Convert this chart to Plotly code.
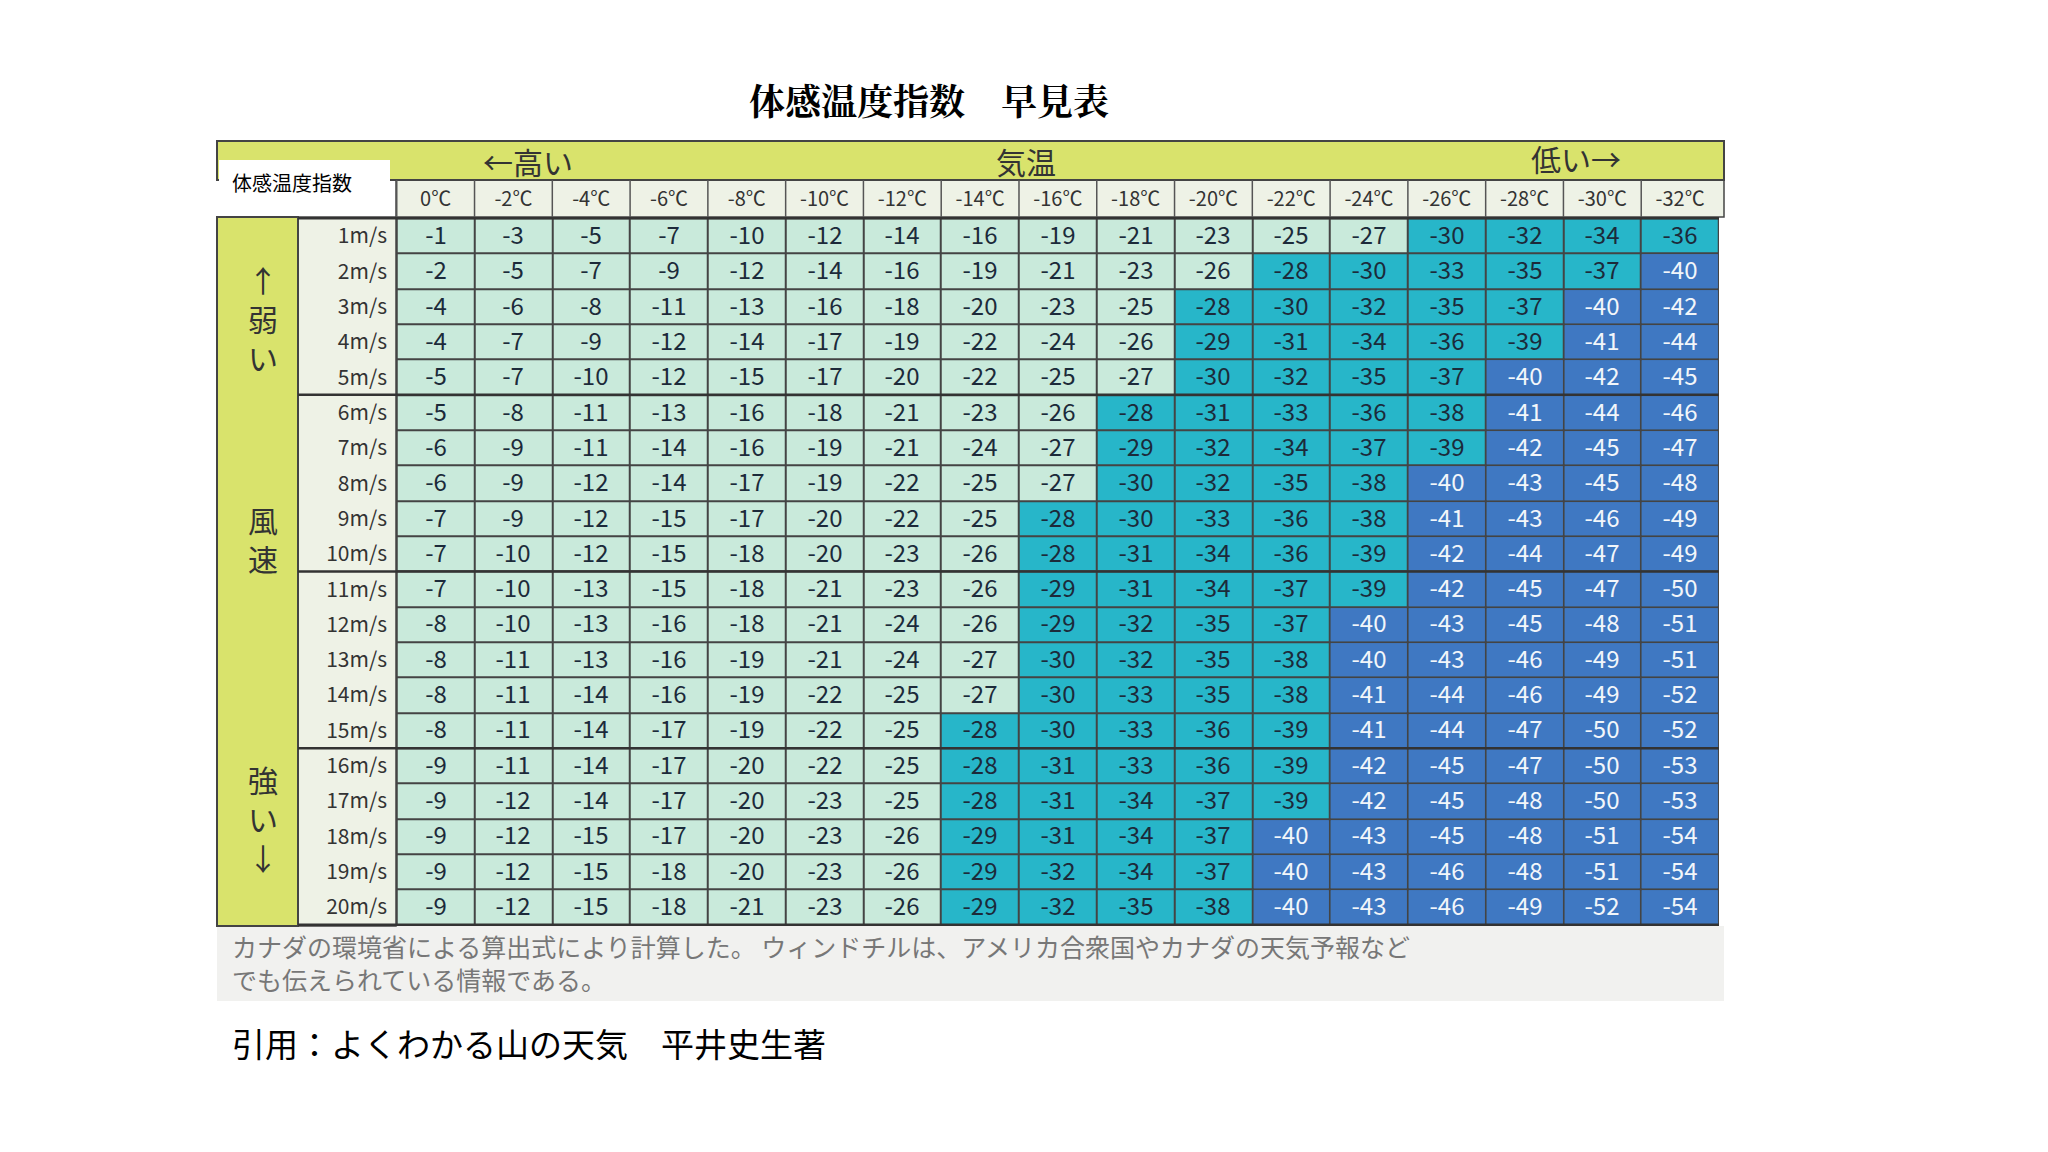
import plotly.graph_objects as go

W, H = 2048, 1152

temps = ["0℃", "-2℃", "-4℃", "-6℃", "-8℃", "-10℃", "-12℃", "-14℃", "-16℃",
         "-18℃", "-20℃", "-22℃", "-24℃", "-26℃", "-28℃", "-30℃", "-32℃"]
winds = [f"{i}m/s" for i in range(1, 21)]

wc = [
    [-1, -3, -5, -7, -10, -12, -14, -16, -19, -21, -23, -25, -27, -30, -32, -34, -36],
    [-2, -5, -7, -9, -12, -14, -16, -19, -21, -23, -26, -28, -30, -33, -35, -37, -40],
    [-4, -6, -8, -11, -13, -16, -18, -20, -23, -25, -28, -30, -32, -35, -37, -40, -42],
    [-4, -7, -9, -12, -14, -17, -19, -22, -24, -26, -29, -31, -34, -36, -39, -41, -44],
    [-5, -7, -10, -12, -15, -17, -20, -22, -25, -27, -30, -32, -35, -37, -40, -42, -45],
    [-5, -8, -11, -13, -16, -18, -21, -23, -26, -28, -31, -33, -36, -38, -41, -44, -46],
    [-6, -9, -11, -14, -16, -19, -21, -24, -27, -29, -32, -34, -37, -39, -42, -45, -47],
    [-6, -9, -12, -14, -17, -19, -22, -25, -27, -30, -32, -35, -38, -40, -43, -45, -48],
    [-7, -9, -12, -15, -17, -20, -22, -25, -28, -30, -33, -36, -38, -41, -43, -46, -49],
    [-7, -10, -12, -15, -18, -20, -23, -26, -28, -31, -34, -36, -39, -42, -44, -47, -49],
    [-7, -10, -13, -15, -18, -21, -23, -26, -29, -31, -34, -37, -39, -42, -45, -47, -50],
    [-8, -10, -13, -16, -18, -21, -24, -26, -29, -32, -35, -37, -40, -43, -45, -48, -51],
    [-8, -11, -13, -16, -19, -21, -24, -27, -30, -32, -35, -38, -40, -43, -46, -49, -51],
    [-8, -11, -14, -16, -19, -22, -25, -27, -30, -33, -35, -38, -41, -44, -46, -49, -52],
    [-8, -11, -14, -17, -19, -22, -25, -28, -30, -33, -36, -39, -41, -44, -47, -50, -52],
    [-9, -11, -14, -17, -20, -22, -25, -28, -31, -33, -36, -39, -42, -45, -47, -50, -53],
    [-9, -12, -14, -17, -20, -23, -25, -28, -31, -34, -37, -39, -42, -45, -48, -50, -53],
    [-9, -12, -15, -17, -20, -23, -26, -29, -31, -34, -37, -40, -43, -45, -48, -51, -54],
    [-9, -12, -15, -18, -20, -23, -26, -29, -32, -34, -37, -40, -43, -46, -48, -51, -54],
    [-9, -12, -15, -18, -21, -23, -26, -29, -32, -35, -38, -40, -43, -46, -49, -52, -54],
]

# colour bands: > -28 pale, -28..-39 cyan, <= -40 blue
cscale = [[0, "#3f78c2"], [0.333, "#3f78c2"], [0.333, "#27b6c9"],
          [0.667, "#27b6c9"], [0.667, "#c9eadb"], [1, "#c9eadb"]]
band = [[0 if v <= -40 else (1 if v <= -28 else 2) for v in row] for row in wc]
band_blue = [[0 if v <= -40 else None for v in row] for row in wc]
txt_dark = [[str(v) if v > -40 else "" for v in row] for row in wc]
txt_light = [[str(v) if v <= -40 else "" for v in row] for row in wc]

# plot area in pixels
L, R, T, B = 388, 1711, 209, 918

def px(x):
    return (x - L) / (R - L)

def py(y):
    return (B - y) / (B - T)

fig = go.Figure()
fig.add_trace(go.Heatmap(z=band, x=temps, y=winds, colorscale=cscale, zmin=0, zmax=2,
                         showscale=False, xgap=2, ygap=2, text=txt_dark,
                         texttemplate="%{text}", textfont=dict(size=24, color="#1c2a3a"),
                         hoverinfo="skip"))
fig.add_trace(go.Heatmap(z=band_blue, x=temps, y=winds, colorscale=cscale, zmin=0, zmax=2,
                         showscale=False, xgap=2, ygap=2, text=txt_light,
                         texttemplate="%{text}", textfont=dict(size=24, color="#f2f6fa"),
                         hoverinfo="skip"))

shapes = [
    dict(type="rect", xref="paper", yref="paper", x0=px(209), x1=px(1716), y0=py(993), y1=py(918),
         fillcolor="#f1f1ef", line=dict(width=0), layer="below"),
    dict(type="rect", xref="paper", yref="paper", x0=px(209), x1=px(1716), y0=py(172), y1=py(133),
         fillcolor="#d9e36c", line=dict(color="#444", width=2)),
    dict(type="rect", xref="paper", yref="paper", x0=px(388), x1=px(1716), y0=py(209), y1=py(172),
         fillcolor="#eef2e6", line=dict(color="#444", width=1.5), layer="below"),
    dict(type="rect", xref="paper", yref="paper", x0=px(209), x1=px(290), y0=py(918), y1=py(209),
         fillcolor="#d9e36c", line=dict(color="#444", width=2)),
    dict(type="rect", xref="paper", yref="paper", x0=px(290), x1=px(388), y0=py(918), y1=py(209),
         fillcolor="#eef2e6", line=dict(color="#444", width=1.5), layer="below"),
    dict(type="rect", xref="paper", yref="paper", x0=px(211), x1=px(382), y0=py(196), y1=py(152),
         fillcolor="white", line=dict(width=0)),
]
for i, t in enumerate(temps):
    shapes.append(dict(type="line", xref="x", yref="paper", x0=i - 0.5, x1=i - 0.5,
                       y0=1, y1=py(172), line=dict(color="#555", width=1.5)))
for i in range(0, 21, 5):
    shapes.append(dict(type="line", xref="paper", yref="y", x0=px(290), x1=1,
                       y0=i - 0.5, y1=i - 0.5, line=dict(color="#333", width=2.5)))

def note(text, x, y, size, color="#333", xanchor="center", **kw):
    return dict(text=text, x=px(x), y=py(y), xref="paper", yref="paper", xanchor=xanchor,
                yanchor="middle", showarrow=False, font=dict(size=size, color=color), **kw)

ann = [
    dict(text="<b>体感温度指数　早見表</b>", x=px(921), y=py(91), xref="paper", yref="paper",
         xanchor="center", yanchor="middle", showarrow=False,
         font=dict(size=36, family="Noto Serif CJK JP, Noto Sans CJK JP", color="black")),
    note("体感温度指数", 222, 174, 20, "black", xanchor="left"),
    note("←高い", 520, 153, 30),
    note("気温", 1018, 153, 30),
    note("低い→", 1568, 150, 30),
    note("↑<br>弱<br>い", 255, 310, 30),
    note("風<br>速", 255, 530, 30),
    note("強<br>い<br>↓", 255, 810, 30),
    note("カナダの環境省による算出式により計算した。 ウィンドチルは、アメリカ合衆国やカナダの天気予報など<br>でも伝えられている情報である。",
         222, 955, 25, "#777", xanchor="left", align="left"),
    note("引用：よくわかる山の天気　平井史生著", 222, 1035, 33, "black", xanchor="left"),
]

fig.update_layout(
    width=W, height=H, paper_bgcolor="white", plot_bgcolor="#444",
    margin=dict(l=L, r=W - R, t=T, b=H - B),
    font=dict(family="Noto Sans CJK JP"),
    shapes=shapes, annotations=ann, showlegend=False,
)
fig.update_xaxes(side="top", showgrid=False, zeroline=False, ticks="",
                 tickfont=dict(size=20, color="#333"), ticklabelstandoff=6)
fig.update_yaxes(autorange="reversed", showgrid=False, zeroline=False, ticks="",
                 tickfont=dict(size=21, color="#333"), ticklabelstandoff=8)

fig.write_html("out.html")
